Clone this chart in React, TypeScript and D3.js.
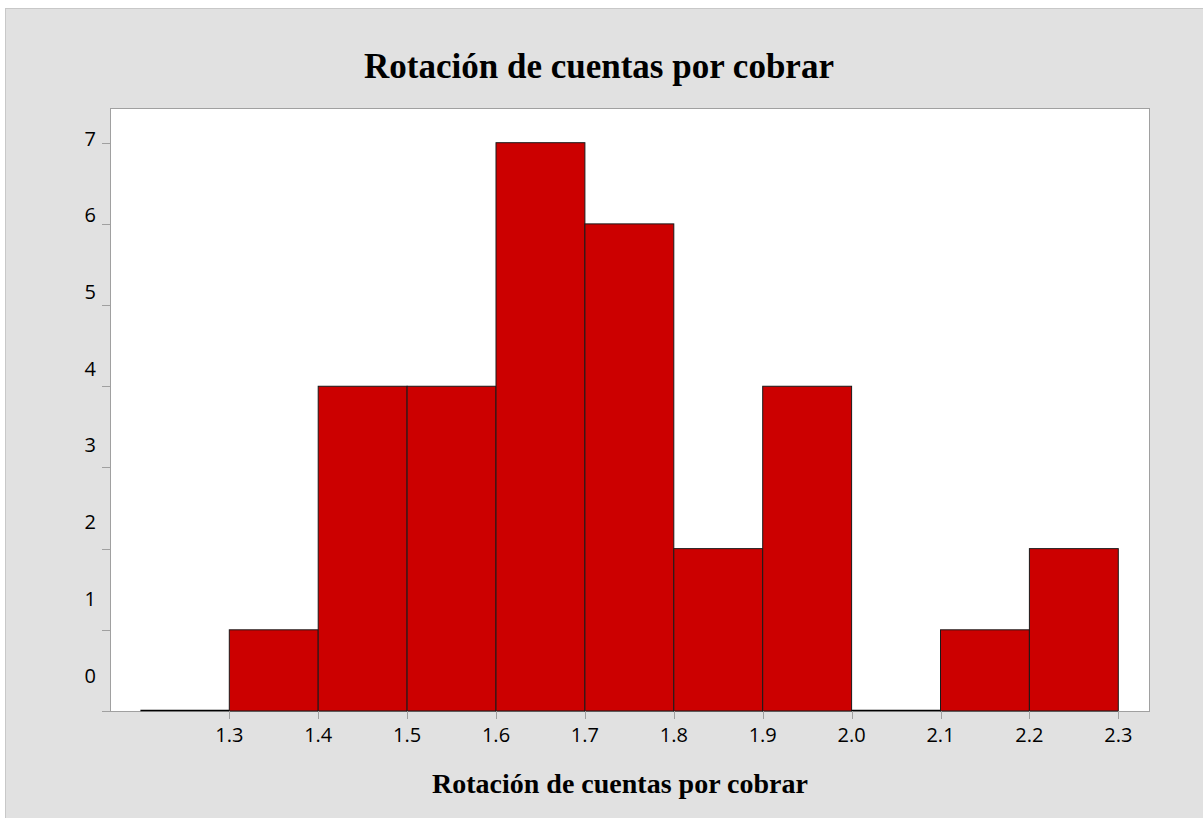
import React from "react";
import * as d3 from "d3";

const binStarts = [1.2, 1.3, 1.4, 1.5, 1.6, 1.7, 1.8, 1.9, 2.0, 2.1, 2.2];
const binWidth = 0.1;
const counts = [0, 1, 4, 4, 7, 6, 2, 4, 0, 1, 2];
const xTicks = [1.3, 1.4, 1.5, 1.6, 1.7, 1.8, 1.9, 2.0, 2.1, 2.2, 2.3];
const yTicks = [0, 1, 2, 3, 4, 5, 6, 7];
const title = "Rotación de cuentas por cobrar";
const xTitle = "Rotación de cuentas por cobrar";

const W = 1203;
const H = 818;
const plot = { left: 110, top: 108, right: 1149, bottom: 711 };

export default function App() {
  const x = d3.scaleLinear().domain([1.3, 2.3]).range([229.3, 1118.3]);
  const y = d3.scaleLinear().domain([0, 7]).range([711, 142.7]);
  // labels in the reference are drawn on a slightly different spacing
  const yLab = d3.scaleLinear().domain([0, 7]).range([675, 138]);
  const tickColor = "#a0a0a0";
  const labelFont = "'Open Sans', 'Noto Sans', sans-serif";
  return (
    <svg
      width={W}
      height={H}
      style={{ position: "absolute", left: 0, top: 0 }}
    >
      <rect x={0} y={0} width={W} height={H} fill="#ffffff" />
      <rect x={5.5} y={8.5} width={W} height={H} fill="#e1e1e1" stroke="#c8c8c8" strokeWidth={1} />
      <text
        x={599}
        y={78}
        textAnchor="middle"
        fontFamily="'Liberation Serif', 'Times New Roman', serif"
        fontWeight="bold"
        fontSize={35}
        fill="#000"
      >
        {title}
      </text>
      <rect
        x={plot.left + 0.5}
        y={plot.top + 0.5}
        width={plot.right - plot.left}
        height={plot.bottom - plot.top}
        fill="#ffffff"
        stroke={tickColor}
        strokeWidth={1}
      />
      {binStarts.map((s, i) => {
        const x0 = x(s);
        const x1 = x(s + binWidth);
        const yt = y(counts[i]);
        if (counts[i] === 0) {
          return (
            <line
              key={i}
              x1={x0}
              x2={x1}
              y1={y(0) - 0.5}
              y2={y(0) - 0.5}
              stroke="#000"
              strokeWidth={1.5}
            />
          );
        }
        return (
          <rect
            key={i}
            x={x0}
            y={yt}
            width={x1 - x0}
            height={y(0) - yt}
            fill="#cc0000"
            stroke="#1a1a1a"
            strokeWidth={1}
          />
        );
      })}
      {yTicks.map((t) => (
        <g key={"y" + t}>
          <line
            x1={102}
            x2={plot.left}
            y1={Math.round(y(t)) + 0.5}
            y2={Math.round(y(t)) + 0.5}
            stroke={tickColor}
            strokeWidth={1}
          />
          <text
            x={96}
            y={yLab(t)}
            textAnchor="end"
            dominantBaseline="central"
            fontFamily={labelFont}
            fontSize={20}
            fill="#000"
          >
            {t}
          </text>
        </g>
      ))}
      {xTicks.map((t) => (
        <g key={"x" + t}>
          <line
            x1={Math.round(x(t)) + 0.5}
            x2={Math.round(x(t)) + 0.5}
            y1={plot.bottom}
            y2={719}
            stroke={tickColor}
            strokeWidth={1}
          />
          <text
            x={x(t)}
            y={734}
            textAnchor="middle"
            dominantBaseline="central"
            fontFamily={labelFont}
            fontSize={20}
            fill="#000"
          >
            {t.toFixed(1)}
          </text>
        </g>
      ))}
      <text
        x={620}
        y={793}
        textAnchor="middle"
        fontFamily="'Liberation Serif', 'Times New Roman', serif"
        fontWeight="bold"
        fontSize={28}
        fill="#000"
      >
        {xTitle}
      </text>
    </svg>
  );
}
